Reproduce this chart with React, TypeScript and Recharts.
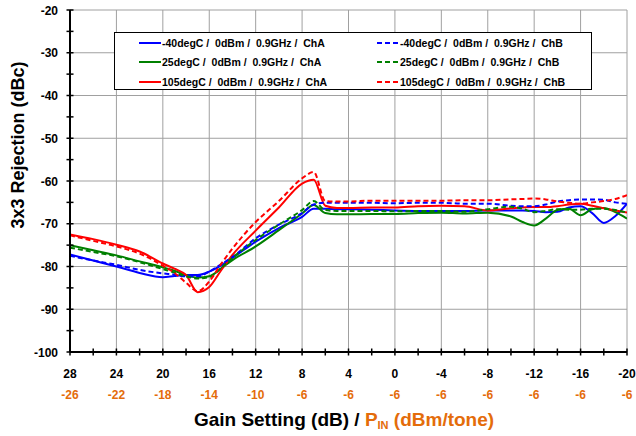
import React from 'react';
import { LineChart, Line, XAxis, YAxis, CartesianGrid, Legend, Label } from 'recharts';

const FONT = "'Liberation Sans', Arial, sans-serif";
const ORANGE = '#E46C0A';

// gain setting (dB), x axis runs 28 -> -20
const gain = [28, 26, 24, 22, 20, 19, 18, 17, 16, 15, 14, 12, 10, 8, 7, 6, 5, 4, 2, 0, -2, -4, -6, -8, -10, -11, -12, -13, -14, -15, -16, -17, -18, -19, -20];

const m40ChA = [-77.2, -78.6, -80.0, -81.5, -82.5, -82.2, -82.0, -82.0, -81.2, -79.8, -78.0, -74.2, -71.0, -68.4, -66.5, -66.5, -66.6, -66.6, -66.7, -66.9, -67.0, -67.0, -67.0, -66.9, -66.9, -66.9, -67.0, -67.3, -67.2, -66.2, -65.9, -67.5, -69.8, -68.2, -65.3];
const m40ChB = [-77.5, -78.6, -79.6, -80.8, -81.6, -81.9, -82.3, -82.3, -81.2, -79.5, -77.8, -73.4, -70.2, -67.5, -65.5, -65.1, -65.1, -65.1, -65.1, -65.2, -65.1, -65.1, -65.3, -65.3, -65.8, -65.9, -65.9, -65.5, -64.8, -64.5, -64.3, -64.3, -64.4, -65.0, -65.3];
const t25ChA = [-75.0, -76.2, -77.4, -78.8, -80.2, -81.0, -82.0, -82.6, -82.3, -80.5, -78.5, -75.3, -71.5, -67.6, -65.6, -67.5, -67.8, -67.8, -67.7, -67.7, -67.5, -67.4, -67.6, -67.4, -68.3, -69.6, -70.4, -68.8, -66.8, -66.5, -68.0, -66.6, -66.3, -67.3, -68.8];
const t25ChB = [-75.6, -76.6, -77.6, -79.0, -80.6, -81.4, -82.3, -82.8, -82.5, -80.4, -78.0, -73.8, -70.2, -66.8, -64.7, -66.8, -67.0, -67.0, -67.0, -67.1, -67.0, -67.0, -67.2, -66.6, -66.0, -66.5, -67.3, -67.0, -66.6, -66.7, -66.7, -66.5, -66.5, -66.8, -67.4];
const t105ChA = [-72.5, -73.6, -74.9, -76.5, -79.3, -80.5, -82.0, -86.0, -84.8, -81.0, -77.3, -71.6, -66.2, -60.6, -59.7, -65.8, -66.3, -66.3, -66.2, -66.2, -65.9, -65.8, -65.9, -66.9, -66.4, -66.2, -66.1, -66.1, -65.9, -65.5, -65.3, -65.8, -66.4, -66.9, -67.4];
const t105ChB = [-72.7, -74.0, -75.3, -77.0, -79.8, -81.5, -83.8, -85.8, -83.5, -79.5, -75.8, -69.6, -64.7, -59.4, -57.9, -64.7, -64.8, -64.8, -64.6, -64.6, -64.6, -64.6, -64.5, -64.5, -64.3, -64.2, -64.1, -64.3, -64.8, -65.1, -65.3, -65.0, -64.7, -64.2, -63.3];

const xTicks = [28, 26, 24, 22, 20, 18, 16, 14, 12, 10, 8, 6, 4, 2, 0, -2, -4, -6, -8, -10, -12, -14, -16, -18, -20];
const gainLabels = [28, 24, 20, 16, 12, 8, 4, 0, -4, -8, -12, -16, -20];
const pinLabels = [-26, -22, -18, -14, -10, -6, -6, -6, -6, -6, -6, -6, -6];
const yTicks = [-20, -25, -30, -35, -40, -45, -50, -55, -60, -65, -70, -75, -80, -85, -90, -95, -100];
const yLabels = [-20, -30, -40, -50, -60, -70, -80, -90, -100];

const series = [
  { key: 'm40A', name: '-40degC /  0dBm /  0.9GHz /  ChA', color: '#0000FF', dashed: false, values: m40ChA },
  { key: 't25A', name: '25degC /  0dBm /  0.9GHz /  ChA', color: '#008000', dashed: false, values: t25ChA },
  { key: 't105A', name: '105degC /  0dBm /  0.9GHz /  ChA', color: '#FF0000', dashed: false, values: t105ChA },
  { key: 'm40B', name: '-40degC /  0dBm /  0.9GHz /  ChB', color: '#0000FF', dashed: true, values: m40ChB },
  { key: 't25B', name: '25degC /  0dBm /  0.9GHz /  ChB', color: '#008000', dashed: true, values: t25ChB },
  { key: 't105B', name: '105degC /  0dBm /  0.9GHz /  ChB', color: '#FF0000', dashed: true, values: t105ChB },
];

const data = gain.map((g, i) => {
  const row: Record<string, number> = { gain: g };
  series.forEach((s) => { row[s.key] = s.values[i]; });
  return row;
});

const XTick = (props: any) => {
  const { x, y, payload } = props;
  const idx = gainLabels.indexOf(payload.value);
  return (
    <g>
      <line x1={x} x2={x} y1={y - 3.5} y2={y + 3.5} stroke="#000" strokeWidth={1.5} />
      {idx >= 0 && (
        <text x={x} y={y + 26} textAnchor="middle" fontFamily={FONT} fontWeight="bold" fontSize={12} fill="#000">
          {payload.value}
        </text>
      )}
      {idx >= 0 && (
        <text x={x} y={y + 47} textAnchor="middle" fontFamily={FONT} fontWeight="bold" fontSize={12} fill={ORANGE}>
          {pinLabels[idx]}
        </text>
      )}
    </g>
  );
};

const YTick = (props: any) => {
  const { x, y, payload } = props;
  const show = yLabels.includes(payload.value);
  return (
    <g>
      <line x1={x - 3.5} x2={x + 3.5} y1={y} y2={y} stroke="#000" strokeWidth={1.5} />
      {show && (
        <text x={x - 12} y={y + 4.5} textAnchor="end" fontFamily={FONT} fontWeight="bold" fontSize={12} fill="#000">
          {payload.value}
        </text>
      )}
    </g>
  );
};

const LegendBox = () => {
  const rows = [0, 1, 2];
  return (
    <div
      style={{
        width: 478,
        height: 58,
        boxSizing: 'border-box',
        border: '1px solid #000',
        background: '#fff',
        position: 'relative',
        fontFamily: FONT,
        fontWeight: 'bold',
        fontSize: 10.5,
      }}
    >
      {series.map((s, i) => {
        const col = s.dashed ? 1 : 0;
        const row = rows[i % 3];
        return (
          <div
            key={s.key}
            style={{
              position: 'absolute',
              left: col ? 262 : 24,
              top: 2 + row * 19.3,
              height: 16,
              display: 'flex',
              alignItems: 'center',
              whiteSpace: 'pre',
            }}
          >
            <svg width={22} height={6} style={{ marginRight: 1 }}>
              <line x1={0} x2={22} y1={3} y2={3} stroke={s.color} strokeWidth={2} strokeDasharray={s.dashed ? '5 3' : undefined} />
            </svg>
            <span>{s.name}</span>
          </div>
        );
      })}
    </div>
  );
};

const XTitle = (props: any) => {
  const { viewBox } = props;
  return (
    <text x={344} y={viewBox.y + 74} textAnchor="middle" fontFamily={FONT} fontWeight="bold" fontSize={19} fill="#000">
      <tspan>Gain Setting (dB) / </tspan>
      <tspan fill={ORANGE}>P</tspan>
      <tspan fill={ORANGE} fontSize={11} dy={3}>IN</tspan>
      <tspan fill={ORANGE} dy={-3}> (dBm/tone)</tspan>
    </text>
  );
};

const YTitle = () => (
  <text
    x={18}
    y={145}
    transform="rotate(-90 18 145)"
    textAnchor="middle"
    dominantBaseline="central"
    fontFamily={FONT}
    fontWeight="bold"
    fontSize={18}
    fill="#000"
  >
    3x3 Rejection (dBc)
  </text>
);

export default function App() {
  return (
    <div style={{ position: 'absolute', left: 0, top: 0, width: 636, height: 436, background: '#fff', fontFamily: FONT }}>
      <LineChart width={636} height={436} data={data} margin={{ top: 10, right: 9, left: 0, bottom: 0 }}>
        <CartesianGrid
          stroke="#a0a0a0"
          strokeWidth={1}
          verticalValues={gainLabels}
          horizontalValues={yLabels}
        />
        <XAxis
          dataKey="gain"
          type="number"
          domain={[-20, 28]}
          reversed
          ticks={xTicks}
          interval={0}
          height={84}
          tickSize={0}
          tickMargin={0}
          tickLine={false}
          tick={<XTick />}
          axisLine={{ stroke: '#000', strokeWidth: 2 }}
          allowDataOverflow
        >
          <Label content={<XTitle />} />
        </XAxis>
        <YAxis
          type="number"
          domain={[-100, -20]}
          ticks={yTicks}
          interval={0}
          width={70}
          tickSize={0}
          tickMargin={0}
          tickLine={false}
          tick={<YTick />}
          axisLine={{ stroke: '#000', strokeWidth: 2 }}
          allowDataOverflow
        >
          <Label content={<YTitle />} />
        </YAxis>
        <Legend
          layout="vertical"
          align="center"
          verticalAlign="middle"
          content={<LegendBox />}
          wrapperStyle={{ position: 'absolute', left: 114, top: 32, width: 478, height: 58 }}
        />
        {series.map((s) => (
          <Line
            key={s.key}
            dataKey={s.key}
            name={s.name}
            type="monotone"
            stroke={s.color}
            strokeWidth={2}
            strokeDasharray={s.dashed ? '5 3' : undefined}
            dot={false}
            activeDot={false}
            isAnimationActive={false}
          />
        ))}
      </LineChart>
    </div>
  );
}
